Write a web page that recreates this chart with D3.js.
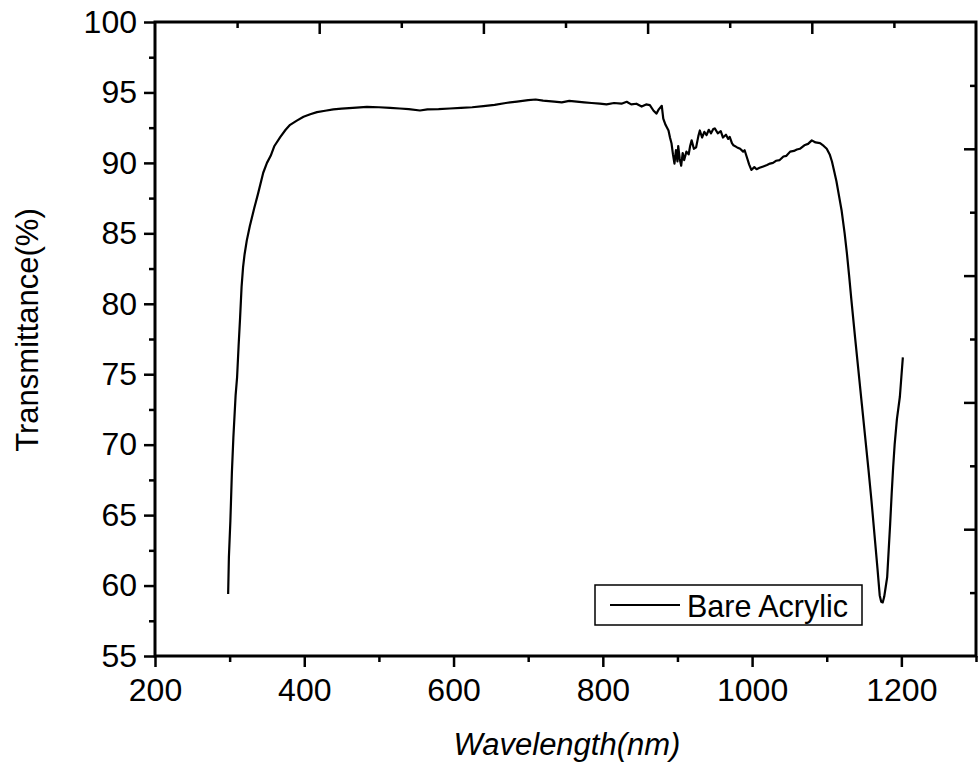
<!DOCTYPE html>
<html>
<head>
<meta charset="utf-8">
<script src="https://cdn.jsdelivr.net/npm/d3@7/dist/d3.min.js"></script>
<style>
  html, body { margin: 0; padding: 0; background: #fff; }
  svg { display: block; }
  text { font-family: "Liberation Sans", Arial, sans-serif; fill: #000; }
</style>
</head>
<body>
<svg id="chart" width="978" height="770"></svg>
<script>
// ---- Data ----
const wavelength = [298,299,301,303,305,308,310,312,314,316,318,320,323,327,333,338,345,350,355,360,368,375,381,390,399,408,417,428,439,450,465,484,500,515,528,540,555,565,580,595,610,625,640,655,670,685,700,710,720,735,745,755,765,775,785,796,805,815,825,832,838,845,852,858,863,868,872,875,879,881,884,888,890,892,894,896,898,900,901,903,905,907,909,912,915,917,919,922,925,928,930,933,936,939,942,945,948,950,954,958,961,965,968,970,973,975,980,984,988,990,993,996,999,1003,1006,1010,1015,1020,1024,1028,1032,1037,1042,1046,1051,1056,1060,1064,1070,1075,1080,1085,1091,1096,1100,1104,1107,1110,1113,1117,1120,1124,1127,1130,1133,1138,1142,1147,1151,1156,1160,1164,1168,1171,1173,1175,1177,1179,1181,1183,1185,1187,1189,1191,1194,1198,1200,1202];
const transmittance = [59.4,62.0,64.6,68.0,70.5,73.5,74.8,77.0,79.0,81.2,82.6,83.5,84.5,85.5,86.8,87.8,89.3,90.0,90.5,91.2,91.85,92.35,92.7,93.0,93.27,93.45,93.6,93.7,93.8,93.85,93.9,93.98,93.95,93.9,93.86,93.82,93.72,93.8,93.82,93.86,93.9,93.95,94.03,94.12,94.25,94.35,94.45,94.5,94.42,94.35,94.3,94.4,94.35,94.3,94.25,94.2,94.15,94.25,94.2,94.34,94.15,94.2,94.0,94.15,94.1,93.7,93.5,93.8,94.05,93.15,92.7,92.3,91.8,91.4,90.6,89.95,90.9,90.1,91.2,90.3,89.8,90.7,90.2,90.8,90.6,91.2,91.6,91.0,91.1,91.9,92.3,91.8,92.2,91.97,92.35,92.1,92.4,92.45,92.1,92.25,91.8,92.0,91.7,91.85,91.4,91.25,91.1,91.0,90.8,90.9,90.4,89.9,89.5,89.7,89.55,89.65,89.75,89.85,89.95,90.0,90.15,90.2,90.45,90.5,90.8,90.85,90.95,91.0,91.25,91.35,91.6,91.45,91.4,91.2,91.0,90.6,90.1,89.4,88.7,87.5,86.6,85.0,83.6,82.0,80.3,77.6,75.5,72.9,70.8,68.2,66.0,63.6,61.2,59.3,58.85,58.8,59.2,59.9,60.6,62.5,64.4,66.5,68.4,70.0,71.8,73.4,74.8,76.2];
const xMajorTicks = [200,400,600,800,1000,1200];
const xMinorTicks = [300,500,700,900,1100,1300];
const yMajorTicks = [55,60,65,70,75,80,85,90,95,100];
const yMinorTicks = [57.5,62.5,67.5,72.5,77.5,82.5,87.5,92.5,97.5];
const frameMajor = [2,4,6,8];
const frameMinor = [1,3,5,7,9];
const seriesName = "Bare Acrylic";
const xTitle = "Wavelength(nm)";
const yTitle = "Transmittance(%)";

// ---- Layout ----
const L = 155, R = 976, T = 22, B = 656;
const svg = d3.select("#chart");
const x = d3.scaleLinear().domain([200, 1300]).range([L, R]);
const y = d3.scaleLinear().domain([55, 100]).range([B, T]);
const xTop = d3.scaleLinear().domain([0, 10]).range([L, R]);
const yRight = d3.scaleLinear().domain([0, 10]).range([T, B]);

function styleAxis(g) {
  g.select(".domain").remove();
  g.selectAll(".tick line").attr("stroke", "#000").attr("stroke-width", 2.5);
  g.selectAll(".tick text").style("font-size", "32px").attr("fill", "#000");
}

// Bottom axis
svg.append("g").attr("transform", `translate(0,${B})`)
  .call(d3.axisBottom(x).tickValues(xMajorTicks).tickSize(11).tickPadding(11).tickFormat(d3.format("d")))
  .call(styleAxis);
svg.append("g").attr("transform", `translate(0,${B})`)
  .call(d3.axisBottom(x).tickValues(xMinorTicks).tickSize(6).tickFormat(""))
  .call(styleAxis);

// Left axis
svg.append("g").attr("transform", `translate(${L},0)`)
  .call(d3.axisLeft(y).tickValues(yMajorTicks).tickSize(11).tickPadding(7).tickFormat(d3.format("d")))
  .call(styleAxis);
svg.append("g").attr("transform", `translate(${L},0)`)
  .call(d3.axisLeft(y).tickValues(yMinorTicks).tickSize(6).tickFormat(""))
  .call(styleAxis);

// Top axis (inward ticks, no labels)
svg.append("g").attr("transform", `translate(0,${T})`)
  .call(d3.axisTop(xTop).tickValues(frameMajor).tickSize(-12).tickFormat(""))
  .call(styleAxis);
svg.append("g").attr("transform", `translate(0,${T})`)
  .call(d3.axisTop(xTop).tickValues(frameMinor).tickSize(-6).tickFormat(""))
  .call(styleAxis);

// Right axis (inward ticks, no labels)
svg.append("g").attr("transform", `translate(${R},0)`)
  .call(d3.axisRight(yRight).tickValues(frameMajor).tickSize(-12).tickFormat(""))
  .call(styleAxis);
svg.append("g").attr("transform", `translate(${R},0)`)
  .call(d3.axisRight(yRight).tickValues(frameMinor).tickSize(-6).tickFormat(""))
  .call(styleAxis);

// Frame
svg.append("rect").attr("x", L).attr("y", T).attr("width", R - L).attr("height", B - T)
  .attr("fill", "none").attr("stroke", "#000").attr("stroke-width", 3);

// Data line
const pts = wavelength.map((w, i) => [w, transmittance[i]]);
svg.append("path").datum(pts)
  .attr("fill", "none").attr("stroke", "#000").attr("stroke-width", 2.2)
  .attr("stroke-linejoin", "round")
  .attr("d", d3.line().x(d => x(d[0])).y(d => y(d[1])));

// Legend
const lg = svg.append("g");
lg.append("rect").attr("x", 595).attr("y", 585).attr("width", 267).attr("height", 40)
  .attr("fill", "#fff").attr("stroke", "#000").attr("stroke-width", 1.5);
lg.append("line").attr("x1", 610).attr("x2", 680).attr("y1", 605).attr("y2", 605)
  .attr("stroke", "#000").attr("stroke-width", 2);
lg.append("text").attr("x", 687).attr("y", 617).style("font-size", "30.5px").text(seriesName);

// Axis titles
svg.append("text").attr("x", 567).attr("y", 755).attr("text-anchor", "middle")
  .style("font-size", "31px").style("font-style", "italic").text(xTitle);
svg.append("text").attr("transform", "translate(38,330) rotate(-90)").attr("text-anchor", "middle")
  .style("font-size", "31px").text(yTitle);
</script>
</body>
</html>
